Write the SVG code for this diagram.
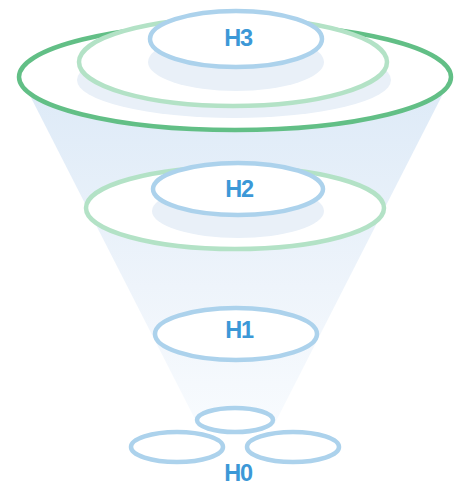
<svg xmlns="http://www.w3.org/2000/svg" width="457" height="485" viewBox="0 0 457 485">
  <defs>
    <linearGradient id="funnelFill" x1="0" y1="0" x2="0" y2="1">
      <stop offset="0" stop-color="#ddeaf7"/>
      <stop offset="0.6" stop-color="#eef4fb"/>
      <stop offset="1" stop-color="#f8fbfe"/>
    </linearGradient>
  </defs>
  <style>
    .disc { fill: #ffffff; stroke: #acd2ec; stroke-width: 4.5; }
    .shadow { fill: #e9f0f8; }
    .ring-dark { fill: #ffffff; stroke: #62bf86; stroke-width: 4.5; }
    .ring-light { fill: #ffffff; stroke: #b3e2c6; stroke-width: 4.5; }
    .label { font-family: "Liberation Sans", Arial, sans-serif; font-weight: bold; font-size: 23.5px; fill: #3c98d7; text-anchor: middle; letter-spacing: -1.2px; }
  </style>

  <!-- funnel body -->
  <polygon id="funnel" points="22,80 450,80 274,425 198,425" fill="url(#funnelFill)"/>

  <g id="level-h3">
    <ellipse class="ring-dark" cx="235" cy="77" rx="216" ry="53"/>
    <ellipse class="shadow" cx="234" cy="80" rx="157" ry="38"/>
    <ellipse class="ring-light" cx="233" cy="62" rx="154" ry="44"/>
    <ellipse class="shadow" cx="236" cy="62" rx="88" ry="29"/>
    <ellipse class="disc" cx="236" cy="39" rx="86" ry="28"/>
    <text class="label" x="238" y="46">H3</text>
  </g>

  <g id="level-h2">
    <ellipse class="ring-light" cx="235" cy="208" rx="149" ry="41"/>
    <ellipse class="shadow" cx="238" cy="211" rx="86" ry="27"/>
    <ellipse class="disc" cx="238" cy="189" rx="85" ry="26"/>
    <text class="label" x="239" y="197">H2</text>
  </g>

  <g id="level-h1">
    <ellipse class="disc" cx="236" cy="334" rx="81" ry="26"/>
    <text class="label" x="239" y="338">H1</text>
  </g>

  <g id="level-h0">
    <ellipse class="disc" cx="235" cy="420" rx="38" ry="12"/>
    <ellipse class="disc" cx="177" cy="447" rx="46" ry="15"/>
    <ellipse class="disc" cx="293" cy="447" rx="46" ry="15"/>
    <text class="label" x="238" y="481">H0</text>
  </g>
</svg>
